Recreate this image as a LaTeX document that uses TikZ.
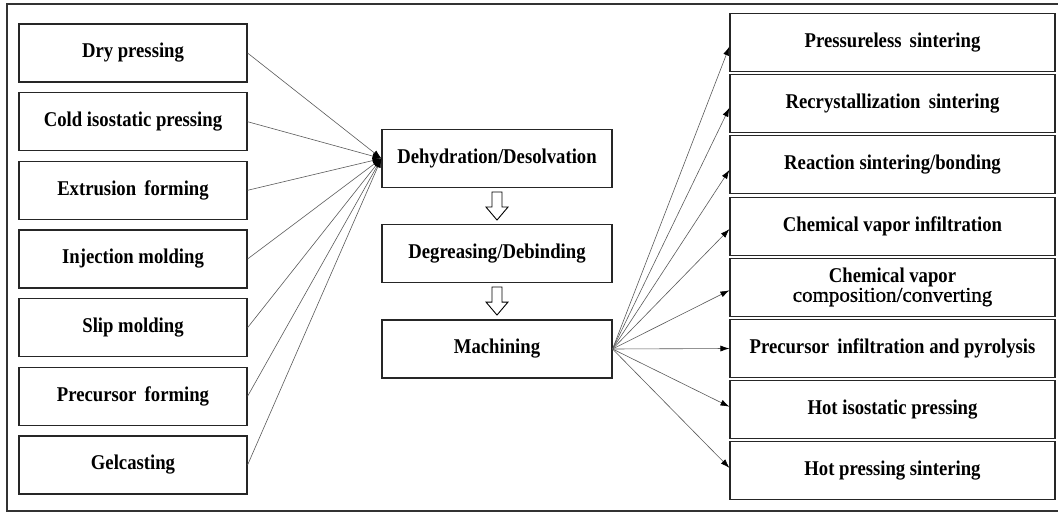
\documentclass[tikz,border=0pt]{standalone}
\usepackage{fontspec}
\setmainfont[FakeStretch=0.89]{Liberation Serif}
\newfontfamily\cvcfont[FakeBold=0.8]{Liberation Serif}
\usetikzlibrary{arrows.meta,calc}

\tikzset{
	stage/.style = {draw=black!85, line width=1.1pt, minimum height=58pt, inner sep=0pt, align=center,
		font=\fontsize{21}{22}\selectfont\bfseries},
	leftbox/.style = {stage, minimum width=228pt},
	midbox/.style = {stage, minimum width=230pt},
	rightbox/.style = {stage, minimum width=325pt},
	link/.style = {draw=black!65, line width=0.6pt, -{Latex[length=9pt,width=6pt,black]}},
	hollow arrow/.pic = {
		\draw[line width=0.9pt, fill=white] (-5,0) -- (-5,15) -- (-11,15) -- (0,28) -- (11,15) -- (5,15) -- (5,0) -- cycle;
	}
}

\begin{document}
\begin{tikzpicture}[x=1pt, y=-1pt]

	\useasboundingbox (0,0) rectangle (1058,513);
	\draw[black!80, line width=1.2pt] (7,4) rectangle (1064,511);

	\def\lx{133}
	\def\mx{497}
	\def\rx{892.5}

	% forming methods
	\node[leftbox] (dry)   at (\lx,53)    {Dry pressing};
	\node[leftbox] (cip)   at (\lx,121.7) {Cold isostatic pressing};
	\node[leftbox] (extr)  at (\lx,190.3) {Extrusion\, forming};
	\node[leftbox] (inj)   at (\lx,259)   {Injection molding};
	\node[leftbox] (slip)  at (\lx,327.7) {Slip molding};
	\node[leftbox] (precf) at (\lx,396.3) {Precursor\, forming};
	\node[leftbox] (gel)   at (\lx,465)   {Gelcasting};

	% treatment
	\node[midbox] (dehyd) at (\mx,158.5) {Dehydration/Desolvation};
	\node[midbox] (degr)  at (\mx,253.5) {Degreasing/Debinding};
	\node[midbox] (mach)  at (\mx,349)   {Machining};

	\pic at ($(dehyd.south)+(0,4)$) {hollow arrow};
	\pic at ($(degr.south)+(0,4)$) {hollow arrow};

	% sintering methods
	\node[rightbox] (pless) at (\rx,42.5)  {Pressureless\, sintering};
	\node[rightbox] (recr)  at (\rx,103.7) {Recrystallization\, sintering};
	\node[rightbox] (react) at (\rx,164.9) {Reaction sintering/bonding};
	\node[rightbox] (cvi)   at (\rx,226.1) {Chemical vapor infiltration};
	\node[rightbox] (cvc)   at (\rx,287.3) {Chemical vapor\\[-3pt] {\cvcfont\mdseries\fontsize{21}{22}\selectfont composition/converting}};
	\node[rightbox] (pip)   at (\rx,348.5) {Precursor\, infiltration and pyrolysis};
	\node[rightbox] (hip)   at (\rx,409.7) {Hot isostatic pressing};
	\node[rightbox] (hp)    at (\rx,470.9) {Hot pressing sintering};

	\foreach \n in {dry,cip,extr,inj,slip,precf,gel}
		\draw[link] (\n.east) -- (dehyd.west);

	\foreach \n/\dy in {pless/4,recr/4,react/5,cvi/3,cvc/3,pip/0,hip/-3,hp/-3}
		\draw[link] (mach.east) -- ($(\n.west)+(0,\dy)$);

\end{tikzpicture}
\end{document}
